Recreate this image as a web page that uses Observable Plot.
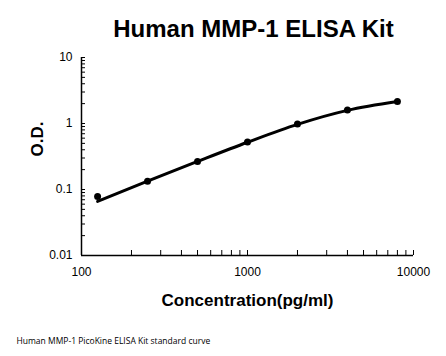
<!DOCTYPE html>
<html>
<head>
<meta charset="utf-8">
<script src="https://cdn.jsdelivr.net/npm/d3@7"></script>
<script src="https://cdn.jsdelivr.net/npm/@observablehq/plot@0.6"></script>
<style>
  html, body { margin: 0; padding: 0; background: #fff; }
</style>
</head>
<body>
<div id="chart"></div>
<script>
const title = "Human MMP-1 ELISA Kit";
const xLabel = "Concentration(pg/ml)";
const yLabel = "O.D.";
const caption = "Human MMP-1 PicoKine ELISA Kit standard curve";

const concentration = [125, 250, 500, 1000, 2000, 4000, 8000];
const od = [0.078, 0.133, 0.265, 0.525, 0.98, 1.6, 2.15];
const fitOd = [0.066, 0.134, 0.266, 0.52, 0.97, 1.58, 2.15];

const xTicks = [100, 1000, 10000];
const xTickLabels = ["100", "1000", "10000"];
const yTicks = [0.01, 0.1, 1, 10];
const yTickLabels = ["0.01", "0.1", "1", "10"];

const xMinor = [];
for (const d of [100, 1000]) for (let k = 2; k <= 10; k++) xMinor.push(d * k);
const yMinor = [];
for (const d of [0.01, 0.1, 1]) for (let k = 2; k <= 10; k++) yMinor.push(d * k);

const points = concentration.map((c, i) => ({c, od: od[i]}));
const fit = concentration.map((c, i) => ({c, od: fitOd[i]}));
const xLab = xTicks.map((v, i) => ({v, t: xTickLabels[i]}));
const yLab = yTicks.map((v, i) => ({v, t: yTickLabels[i]}));

const W = 446, H = 356, mL = 81, mR = 33, mT = 57, mB = 101;
const fw = W - mL - mR, fh = H - mT - mB;

const chart = Plot.plot({
  width: W, height: H,
  marginLeft: mL, marginRight: mR, marginTop: mT, marginBottom: mB,
  style: {fontFamily: "'Liberation Sans', Arial, sans-serif", background: "#fff", color: "#000"},
  x: {type: "log", domain: [100, 10000], axis: null},
  y: {type: "log", domain: [0.01, 10], axis: null},
  marks: [
    Plot.text(xLab, {x: "v", text: "t", frameAnchor: "bottom", dy: 17, fontSize: 12, lineAnchor: "middle", fill: "#000"}),
    Plot.text(yLab, {y: "v", text: "t", frameAnchor: "left", dx: -9, textAnchor: "end", fontSize: 12, lineAnchor: "middle", fill: "#000"}),
    Plot.tickX(xMinor, {x: d => d, insetTop: fh - 5, stroke: "#000", strokeWidth: 1}),
    Plot.tickY(yMinor, {y: d => d, insetRight: fw - 4, stroke: "#000", strokeWidth: 1}),
    Plot.ruleX([100], {stroke: "#000", strokeWidth: 1.5}),
    Plot.ruleY([0.01], {stroke: "#000", strokeWidth: 1.5}),
    Plot.line(fit, {x: "c", y: "od", curve: "monotone-x", stroke: "#000", strokeWidth: 3}),
    Plot.dot(points, {x: "c", y: "od", r: 3.5, fill: "#000", stroke: "none"}),
    Plot.text([title], {frameAnchor: "top", dx: 6, dy: -28, fontSize: 24, fontWeight: "bold", lineAnchor: "middle"}),
    Plot.text([xLabel], {frameAnchor: "bottom", dy: 45, fontSize: 17, fontWeight: "bold", lineAnchor: "middle"}),
    Plot.text([yLabel], {frameAnchor: "left", dx: -44, rotate: -90, fontSize: 17, fontWeight: "bold", lineAnchor: "middle"}),
    Plot.text([caption], {frameAnchor: "bottom-left", dx: -65, dy: 86, textAnchor: "start", fontSize: 8.5, fontFamily: "'Open Sans', sans-serif", lineAnchor: "middle"})
  ]
});
document.getElementById("chart").appendChild(chart);
</script>
</body>
</html>
